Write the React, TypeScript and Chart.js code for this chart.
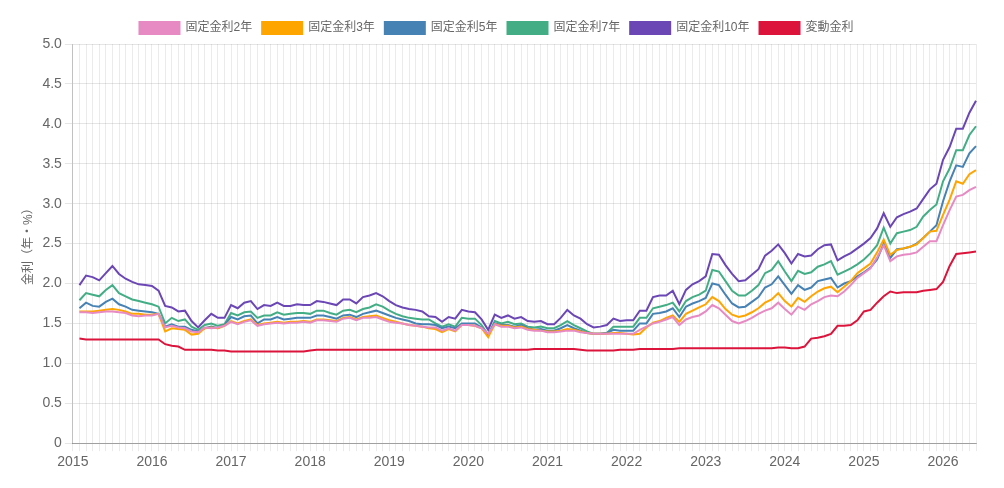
import { useEffect, useRef } from 'react';
import { Chart, registerables } from 'chart.js';

Chart.register(...registerables);

// Monthly axis: 2015-01 .. 2026-06
const firstYear = 2015;
const monthCount = 138;
const months: string[] = [];
for (let k = 0; k < monthCount; k++) {
  const y = firstYear + Math.floor(k / 12);
  const m = (k % 12) + 1;
  months.push(`${y}-${String(m).padStart(2, '0')}`);
}

const yTicks = [0, 0.5, 1, 1.5, 2, 2.5, 3, 3.5, 4, 4.5, 5];

// 固定金利2年
const fixed2 = [
  null, 1.64, 1.64, 1.63, 1.64, 1.65, 1.65, 1.64, 1.63, 1.60, 1.59, 1.60,
  1.60, 1.62, 1.45, 1.47, 1.45, 1.44, 1.40, 1.39, 1.45, 1.44, 1.45, 1.47,
  1.52, 1.49, 1.52, 1.54, 1.47, 1.49, 1.50, 1.51, 1.50, 1.51, 1.51, 1.52,
  1.51, 1.54, 1.54, 1.53, 1.52, 1.56, 1.57, 1.54, 1.57, 1.57, 1.58, 1.55,
  1.52, 1.51, 1.50, 1.48, 1.47, 1.46, 1.45, 1.45, 1.41, 1.44, 1.41, 1.48,
  1.48, 1.47, 1.44, 1.37, 1.49, 1.46, 1.46, 1.44, 1.45, 1.42, 1.41, 1.41,
  1.39, 1.39, 1.40, 1.41, 1.41, 1.39, 1.38, 1.37, 1.37, 1.37, 1.37, 1.37,
  1.37, 1.37, 1.42, 1.46, 1.50, 1.52, 1.55, 1.58, 1.48, 1.55, 1.58, 1.60,
  1.65, 1.73, 1.69, 1.61, 1.53, 1.50, 1.53, 1.57, 1.62, 1.66, 1.69, 1.76,
  1.68, 1.61, 1.71, 1.67, 1.74, 1.78, 1.83, 1.85, 1.84, 1.90, 1.98, 2.07,
  2.13, 2.19, 2.33, 2.48, 2.28, 2.34, 2.36, 2.37, 2.39, 2.46, 2.53, 2.53,
  2.73, 2.92, 3.09, 3.11, 3.17, 3.21,
];

// 固定金利3年
const fixed3 = [
  null, 1.65, 1.65, 1.65, 1.66, 1.67, 1.68, 1.67, 1.65, 1.62, 1.62, 1.61,
  1.61, 1.62, 1.40, 1.44, 1.43, 1.42, 1.36, 1.37, 1.44, 1.45, 1.44, 1.47,
  1.53, 1.50, 1.53, 1.55, 1.48, 1.50, 1.51, 1.52, 1.51, 1.52, 1.52, 1.53,
  1.52, 1.55, 1.55, 1.54, 1.53, 1.57, 1.58, 1.55, 1.58, 1.59, 1.60, 1.57,
  1.54, 1.52, 1.50, 1.48, 1.47, 1.46, 1.44, 1.43, 1.39, 1.43, 1.40, 1.48,
  1.48, 1.47, 1.44, 1.33, 1.49, 1.47, 1.47, 1.45, 1.46, 1.43, 1.42, 1.41,
  1.40, 1.40, 1.41, 1.43, 1.42, 1.40, 1.38, 1.37, 1.37, 1.37, 1.38, 1.38,
  1.37, 1.36, 1.37, 1.45, 1.51, 1.53, 1.57, 1.60, 1.52, 1.62, 1.66, 1.70,
  1.74, 1.83, 1.78, 1.68, 1.61, 1.58, 1.60, 1.64, 1.69, 1.76, 1.80, 1.88,
  1.78, 1.71, 1.82, 1.77, 1.84, 1.90, 1.94, 1.96, 1.89, 1.96, 2.03, 2.13,
  2.19, 2.25, 2.39, 2.55, 2.36, 2.42, 2.44, 2.46, 2.49, 2.57, 2.65, 2.66,
  2.86, 3.05, 3.28, 3.25, 3.37, 3.42,
];

// 固定金利5年
const fixed5 = [
  null, 1.69, 1.76, 1.72, 1.71, 1.77, 1.81, 1.74, 1.71, 1.67, 1.66, 1.65,
  1.64, 1.62, 1.46, 1.49, 1.46, 1.46, 1.42, 1.40, 1.44, 1.46, 1.44, 1.48,
  1.58, 1.55, 1.59, 1.60, 1.50, 1.55, 1.55, 1.58, 1.55, 1.56, 1.57, 1.57,
  1.57, 1.60, 1.60, 1.58, 1.56, 1.60, 1.61, 1.58, 1.62, 1.64, 1.66, 1.63,
  1.60, 1.57, 1.55, 1.53, 1.50, 1.49, 1.49, 1.48, 1.44, 1.46, 1.44, 1.50,
  1.50, 1.50, 1.45, 1.36, 1.50, 1.48, 1.48, 1.46, 1.48, 1.44, 1.42, 1.43,
  1.41, 1.41, 1.44, 1.48, 1.44, 1.41, 1.38, 1.37, 1.37, 1.38, 1.42, 1.41,
  1.41, 1.41, 1.50, 1.50, 1.62, 1.63, 1.65, 1.69, 1.58, 1.71, 1.75, 1.78,
  1.82, 2.00, 1.98, 1.86, 1.75, 1.70, 1.71, 1.77, 1.83, 1.95, 1.99, 2.09,
  1.98, 1.87, 1.98, 1.92, 1.95, 2.03, 2.05, 2.07, 1.95, 2.00, 2.03, 2.09,
  2.14, 2.20, 2.30, 2.50, 2.32, 2.43, 2.44, 2.46, 2.50, 2.57, 2.65, 2.73,
  3.03, 3.28, 3.48, 3.46, 3.63, 3.72,
];

// 固定金利7年
const fixed7 = [
  null, 1.79, 1.88, 1.86, 1.84, 1.92, 1.98, 1.88, 1.84, 1.80, 1.78, 1.76,
  1.74, 1.71, 1.50, 1.57, 1.53, 1.55, 1.46, 1.42, 1.48, 1.50, 1.47, 1.49,
  1.63, 1.60, 1.64, 1.65, 1.57, 1.60, 1.60, 1.64, 1.61, 1.62, 1.63, 1.63,
  1.62, 1.66, 1.66, 1.63, 1.61, 1.66, 1.67, 1.64, 1.68, 1.70, 1.74, 1.71,
  1.66, 1.62, 1.59, 1.57, 1.56, 1.55, 1.55, 1.50, 1.46, 1.49, 1.46, 1.57,
  1.56, 1.56, 1.48, 1.36, 1.53, 1.50, 1.52, 1.49, 1.50, 1.46, 1.45, 1.46,
  1.44, 1.44, 1.48, 1.53, 1.48, 1.44, 1.40, 1.37, 1.37, 1.38, 1.46, 1.46,
  1.46, 1.46, 1.57, 1.57, 1.69, 1.71, 1.73, 1.76, 1.65, 1.78, 1.83, 1.86,
  1.91, 2.17, 2.15, 2.03, 1.91, 1.85, 1.85, 1.91, 1.98, 2.13, 2.17, 2.28,
  2.15, 2.03, 2.16, 2.12, 2.14, 2.21, 2.24, 2.28, 2.11, 2.15, 2.19, 2.24,
  2.30, 2.38, 2.48, 2.70, 2.50, 2.63, 2.65, 2.67, 2.71, 2.84, 2.92, 2.99,
  3.28, 3.44, 3.67, 3.67, 3.86, 3.97,
];

// 固定金利10年
const fixed10 = [
  null, 1.98, 2.10, 2.08, 2.04, 2.13, 2.22, 2.12, 2.06, 2.02, 1.99, 1.98,
  1.97, 1.91, 1.72, 1.70, 1.65, 1.66, 1.53, 1.45, 1.54, 1.62, 1.57, 1.57,
  1.73, 1.69, 1.76, 1.78, 1.68, 1.73, 1.72, 1.76, 1.72, 1.72, 1.74, 1.73,
  1.73, 1.78, 1.77, 1.75, 1.73, 1.80, 1.80, 1.75, 1.83, 1.85, 1.88, 1.84,
  1.78, 1.73, 1.70, 1.68, 1.67, 1.65, 1.59, 1.58, 1.52, 1.58, 1.56, 1.67,
  1.65, 1.64, 1.55, 1.42, 1.61, 1.57, 1.60, 1.56, 1.58, 1.53, 1.52, 1.53,
  1.49, 1.49, 1.57, 1.67, 1.60, 1.56, 1.49, 1.45, 1.46, 1.48, 1.56, 1.53,
  1.54, 1.54, 1.66, 1.66, 1.83, 1.85, 1.85, 1.91, 1.74, 1.92, 1.99, 2.03,
  2.09, 2.37, 2.36, 2.23, 2.12, 2.03, 2.04, 2.11, 2.18, 2.35, 2.41, 2.49,
  2.38, 2.25, 2.37, 2.34, 2.35, 2.43, 2.48, 2.49, 2.29, 2.34, 2.38, 2.44,
  2.50, 2.57, 2.69, 2.88, 2.71, 2.83, 2.87, 2.90, 2.94, 3.06, 3.18, 3.25,
  3.55, 3.71, 3.94, 3.94, 4.14, 4.29,
];

// 変動金利
const variable = [
  null, 1.31, 1.30, 1.30, 1.30, 1.30, 1.30, 1.30, 1.30, 1.30, 1.30, 1.30,
  1.30, 1.30, 1.24, 1.22, 1.21, 1.17, 1.17, 1.17, 1.17, 1.17, 1.16, 1.16,
  1.15, 1.15, 1.15, 1.15, 1.15, 1.15, 1.15, 1.15, 1.15, 1.15, 1.15, 1.15,
  1.16, 1.17, 1.17, 1.17, 1.17, 1.17, 1.17, 1.17, 1.17, 1.17, 1.17, 1.17,
  1.17, 1.17, 1.17, 1.17, 1.17, 1.17, 1.17, 1.17, 1.17, 1.17, 1.17, 1.17,
  1.17, 1.17, 1.17, 1.17, 1.17, 1.17, 1.17, 1.17, 1.17, 1.17, 1.18, 1.18,
  1.18, 1.18, 1.18, 1.18, 1.18, 1.17, 1.16, 1.16, 1.16, 1.16, 1.16, 1.17,
  1.17, 1.17, 1.18, 1.18, 1.18, 1.18, 1.18, 1.18, 1.19, 1.19, 1.19, 1.19,
  1.19, 1.19, 1.19, 1.19, 1.19, 1.19, 1.19, 1.19, 1.19, 1.19, 1.19, 1.20,
  1.20, 1.19, 1.19, 1.21, 1.31, 1.32, 1.34, 1.37, 1.47, 1.47, 1.48, 1.54,
  1.65, 1.67, 1.76, 1.84, 1.90, 1.88, 1.89, 1.89, 1.89, 1.91, 1.92, 1.93,
  2.02, 2.22, 2.37, 2.38, 2.39, 2.40,
];

const seriesNames = ['固定金利2年', '固定金利3年', '固定金利5年', '固定金利7年', '固定金利10年', '変動金利'];
const seriesColors = ['#E78AC3', '#FFA500', '#4682B4', '#43AE86', '#6B46B5', '#DC143C'];
const seriesValues = [fixed2, fixed3, fixed5, fixed7, fixed10, variable];

const fontFamily = "'Helvetica Neue', Helvetica, Arial, 'Noto Sans CJK JP', sans-serif";

export default function App() {
  const canvasRef = useRef<HTMLCanvasElement | null>(null);

  useEffect(() => {
    if (!canvasRef.current) return;
    const chart = new Chart(canvasRef.current, {
      type: 'line',
      data: {
        labels: months,
        datasets: seriesNames.map((name, k) => ({
          label: name,
          data: seriesValues[k],
          borderColor: seriesColors[k],
          backgroundColor: seriesColors[k],
          borderWidth: 2,
          pointRadius: 0,
          pointHoverRadius: 0,
          tension: 0,
          fill: false,
        })),
      },
      options: {
        animation: false,
        responsive: true,
        maintainAspectRatio: false,
        layout: { padding: { left: 9, right: 20, top: 4, bottom: 6 } },
        font: { family: fontFamily },
        plugins: {
          legend: {
            position: 'top',
            labels: {
              color: '#666',
              font: { family: fontFamily, size: 12 },
              boxWidth: 40,
              boxHeight: 12,
            },
          },
          tooltip: { enabled: false },
        },
        scales: {
          x: {
            type: 'category',
            grid: { color: 'rgba(0,0,0,0.08)', tickLength: 8 },
            border: { color: 'rgba(0,0,0,0.3)' },
            ticks: {
              autoSkip: false,
              maxRotation: 0,
              minRotation: 0,
              color: '#666',
              font: { family: fontFamily, size: 14 },
              callback: (_v: any, idx: number) => {
                const lab = months[idx];
                return lab.endsWith('-01') ? lab.slice(0, 4) : '';
              },
            },
          },
          y: {
            min: yTicks[0],
            max: yTicks[yTicks.length - 1],
            grid: { color: 'rgba(0,0,0,0.1)' },
            border: { color: 'rgba(0,0,0,0.18)' },
            afterBuildTicks: (axis: any) => {
              axis.ticks = yTicks.map((v) => ({ value: v }));
            },
            ticks: {
              color: '#666',
              font: { family: fontFamily, size: 14 },
              callback: (v: any) => (Number(v) === 0 ? '0' : Number(v).toFixed(1)),
            },
            title: {
              display: true,
              text: '金利（年・%）',
              color: '#666',
              font: { family: fontFamily, size: 12 },
            },
          },
        },
      },
    });
    return () => chart.destroy();
  }, []);

  return (
    <div style={{ width: '100%', height: 472, position: 'relative' }}>
      <canvas ref={canvasRef} />
    </div>
  );
}
